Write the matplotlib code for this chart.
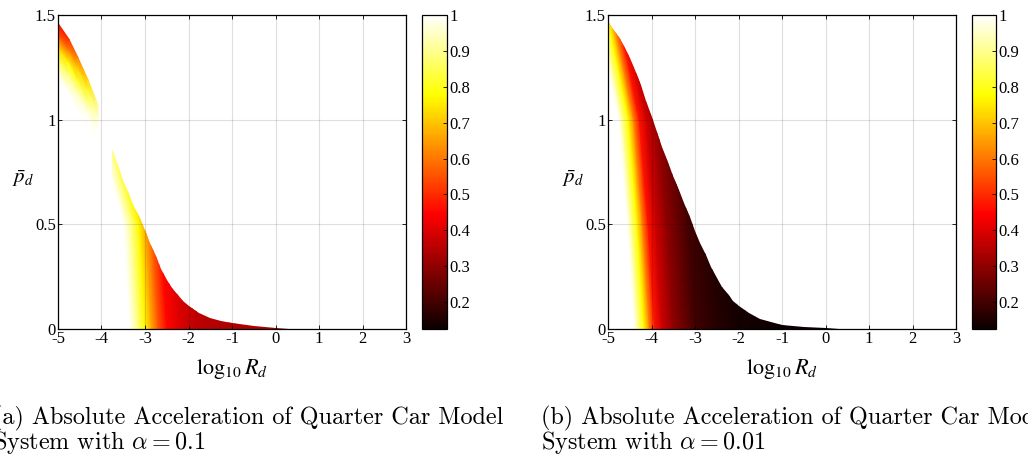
import numpy as np
import matplotlib
matplotlib.use('Agg')
import matplotlib.pyplot as plt
from matplotlib.patches import Polygon
from matplotlib.colors import Normalize
from matplotlib.cm import ScalarMappable

# axes / colour scale
x_ticks = [-5, -4, -3, -2, -1, 0, 1, 2, 3]
x_tick_labels = ['-5', '-4', '-3', '-2', '-1', '0', '1', '2', '3']
y_ticks = [0, 0.5, 1, 1.5]
y_tick_labels = ['0', '0.5', '1', '1.5']
cbar_ticks = [0.2, 0.3, 0.4, 0.5, 0.6, 0.7, 0.8, 0.9, 1.0]
cbar_tick_labels = ['0.2', '0.3', '0.4', '0.5', '0.6', '0.7', '0.8', '0.9', '1']
c_min, c_max = 0.125, 1.0

# (a) alpha = 0.1 : lower lobe, upper boundary
a_top_x = [-3.75, -3.625, -3.5, -3.375, -3.25, -3.125, -3.0, -2.875, -2.75, -2.625, -2.5,
           -2.375, -2.25, -2.125, -2.0, -1.75, -1.5, -1.25, -1.0, -0.5, 0.0, 0.3]
a_top_y = [0.86, 0.785, 0.71, 0.645, 0.585, 0.53, 0.474, 0.41, 0.347, 0.288, 0.235,
           0.196, 0.164, 0.134, 0.108, 0.075, 0.052, 0.038, 0.029, 0.014, 0.006, 0.0]
# colour across the lobe (columns at y=0, shifted left higher up)
a_col_x = [-3.35, -3.15, -3.0, -2.85, -2.7, -2.5, -2.2, -1.8, -1.0, 0.5]
a_col_val = [1.0, 0.88, 0.77, 0.66, 0.56, 0.45, 0.40, 0.36, 0.34, 0.34]
a_row_y = [0.0, 0.5, 0.7, 0.9]
a_row_shift = [0.0, -0.14, -0.4, -0.65]

# (a) upper lobe: top edge and colour by depth below it
a_up_x = [-5.0, -4.75, -4.55, -4.31, -4.08]
a_up_top = [1.46, 1.385, 1.30, 1.19, 1.07]
a_up_depth = [0.0, 0.06, 0.12, 0.18, 0.26]
a_up_val = [
    [0.45, 0.50, 0.60, 0.72, 0.90],
    [0.55, 0.62, 0.72, 0.82, 0.97],
    [0.72, 0.78, 0.82, 0.92, 1.00],
    [0.85, 0.90, 0.95, 1.00, 1.00],
    [1.00, 1.00, 1.00, 1.00, 1.00],
]

# (b) alpha = 0.01
b_top_x = [-5.0, -4.875, -4.75, -4.625, -4.5, -4.375, -4.25, -4.125, -4.0, -3.875, -3.75,
           -3.625, -3.5, -3.375, -3.25, -3.125, -3.0, -2.875, -2.75, -2.625, -2.5, -2.375,
           -2.25, -2.125, -2.0, -1.75, -1.5, -1.25, -1.0, -0.5, 0.0, 0.3]
b_top_y = [1.47, 1.435, 1.395, 1.35, 1.295, 1.235, 1.166, 1.09, 1.015, 0.94, 0.87,
           0.80, 0.73, 0.665, 0.60, 0.535, 0.47, 0.41, 0.355, 0.297, 0.245, 0.20,
           0.165, 0.133, 0.108, 0.075, 0.05, 0.032, 0.02, 0.01, 0.004, 0.0]
b_col_x = [-4.4, -4.3, -4.18, -4.05, -3.92, -3.75, -3.5, -3.0, -2.5, -2.0, -1.0, 0.5]
b_col_val = [1.0, 0.9, 0.78, 0.62, 0.47, 0.38, 0.30, 0.20, 0.16, 0.14, 0.13, 0.125]
b_row_y = [0.0, 0.5, 1.0, 1.25, 1.5]
b_row_shift = [0.0, -0.16, -0.36, -0.6, -0.85]

captions = [
    ('(a) Absolute Acceleration of Quarter Car Model', r'System with $\alpha = 0.1$'),
    ('(b) Absolute Acceleration of Quarter Car Model', r'System with $\alpha = 0.01$'),
]

plt.rcParams['font.family'] = 'Liberation Serif'
plt.rcParams['mathtext.fontset'] = 'stix'

cmap = plt.get_cmap('hot')
norm = Normalize(vmin=c_min, vmax=c_max)


def shifted_mesh(ax, col_x, col_val, row_y, row_shift, top_x, top_y):
    X = np.array(col_x)[None, :] + np.array(row_shift)[:, None]
    Y = np.repeat(np.array(row_y)[:, None], len(col_x), axis=1)
    C = np.repeat(np.array(col_val)[None, :], len(row_y), axis=0)
    mesh = ax.pcolormesh(X, Y, C, shading='gouraud', cmap=cmap, norm=norm, zorder=1)
    verts = [(top_x[0], 0.0)] + list(zip(top_x, top_y)) + [(top_x[-1], 0.0)]
    clip = Polygon(verts, closed=True, transform=ax.transData)
    mesh.set_clip_path(clip)


def style_axes(ax):
    ax.set_xlim(-5, 3)
    ax.set_ylim(0, 1.5)
    ax.set_xticks(x_ticks)
    ax.set_xticklabels(x_tick_labels)
    ax.set_yticks(y_ticks)
    ax.set_yticklabels(y_tick_labels)
    ax.tick_params(direction='in', length=3, width=0.6, top=True, right=True,
                   labelsize=12, pad=1.5)
    ax.set_axisbelow(False)
    ax.grid(True, color='k', alpha=0.13, linewidth=0.8)
    for sp in ax.spines.values():
        sp.set_linewidth(0.9)
    ax.set_xlabel(r'$\log_{10} R_d$', fontsize=16)
    ax.xaxis.set_label_coords(0.5, -0.09)
    ax.set_ylabel(r'$\bar{p}_d$', fontsize=15, rotation=0, va='center')
    ax.yaxis.set_label_coords(-0.1, 0.48)


def style_cbar(cax):
    cb = fig.colorbar(ScalarMappable(norm=norm, cmap=cmap), cax=cax)
    cb.set_ticks(cbar_ticks)
    cb.set_ticklabels(cbar_tick_labels)
    cb.ax.tick_params(direction='in', length=3, width=0.6, labelsize=12, pad=2)
    cb.outline.set_linewidth(0.9)


fig = plt.figure(figsize=(10.28, 4.58), dpi=100)
ax1 = fig.add_axes([58 / 1028, 129 / 458, 348 / 1028, 314 / 458])
cax1 = fig.add_axes([422 / 1028, 129 / 458, 25 / 1028, 314 / 458])
ax2 = fig.add_axes([608 / 1028, 129 / 458, 348 / 1028, 314 / 458])
cax2 = fig.add_axes([972 / 1028, 129 / 458, 23.5 / 1028, 314 / 458])

# panel (a)
shifted_mesh(ax1, a_col_x, a_col_val, a_row_y, a_row_shift, a_top_x, a_top_y)
Xu = np.repeat(np.array(a_up_x)[None, :], len(a_up_depth), axis=0)
Yu = np.array(a_up_top)[None, :] - np.array(a_up_depth)[:, None]
ax1.pcolormesh(Xu, Yu, np.array(a_up_val), shading='gouraud', cmap=cmap, norm=norm, zorder=1)
style_axes(ax1)
style_cbar(cax1)

# panel (b)
shifted_mesh(ax2, b_col_x, b_col_val, b_row_y, b_row_shift, [-5.0] + b_top_x, [0.0] + b_top_y)
style_axes(ax2)
style_cbar(cax2)

# captions
for x0, (line1, line2) in zip([-7 / 1028, 541 / 1028], captions):
    t1 = fig.text(x0, 1 - 424 / 458, line1, fontfamily='cmr10', fontsize=17.4, va='baseline')
    t2 = fig.text(x0, 1 - 449 / 458, line2, fontfamily='cmr10', fontsize=17.4, va='baseline')
    t2.set_math_fontfamily('cm')

fig.savefig('out.png', dpi=100)
